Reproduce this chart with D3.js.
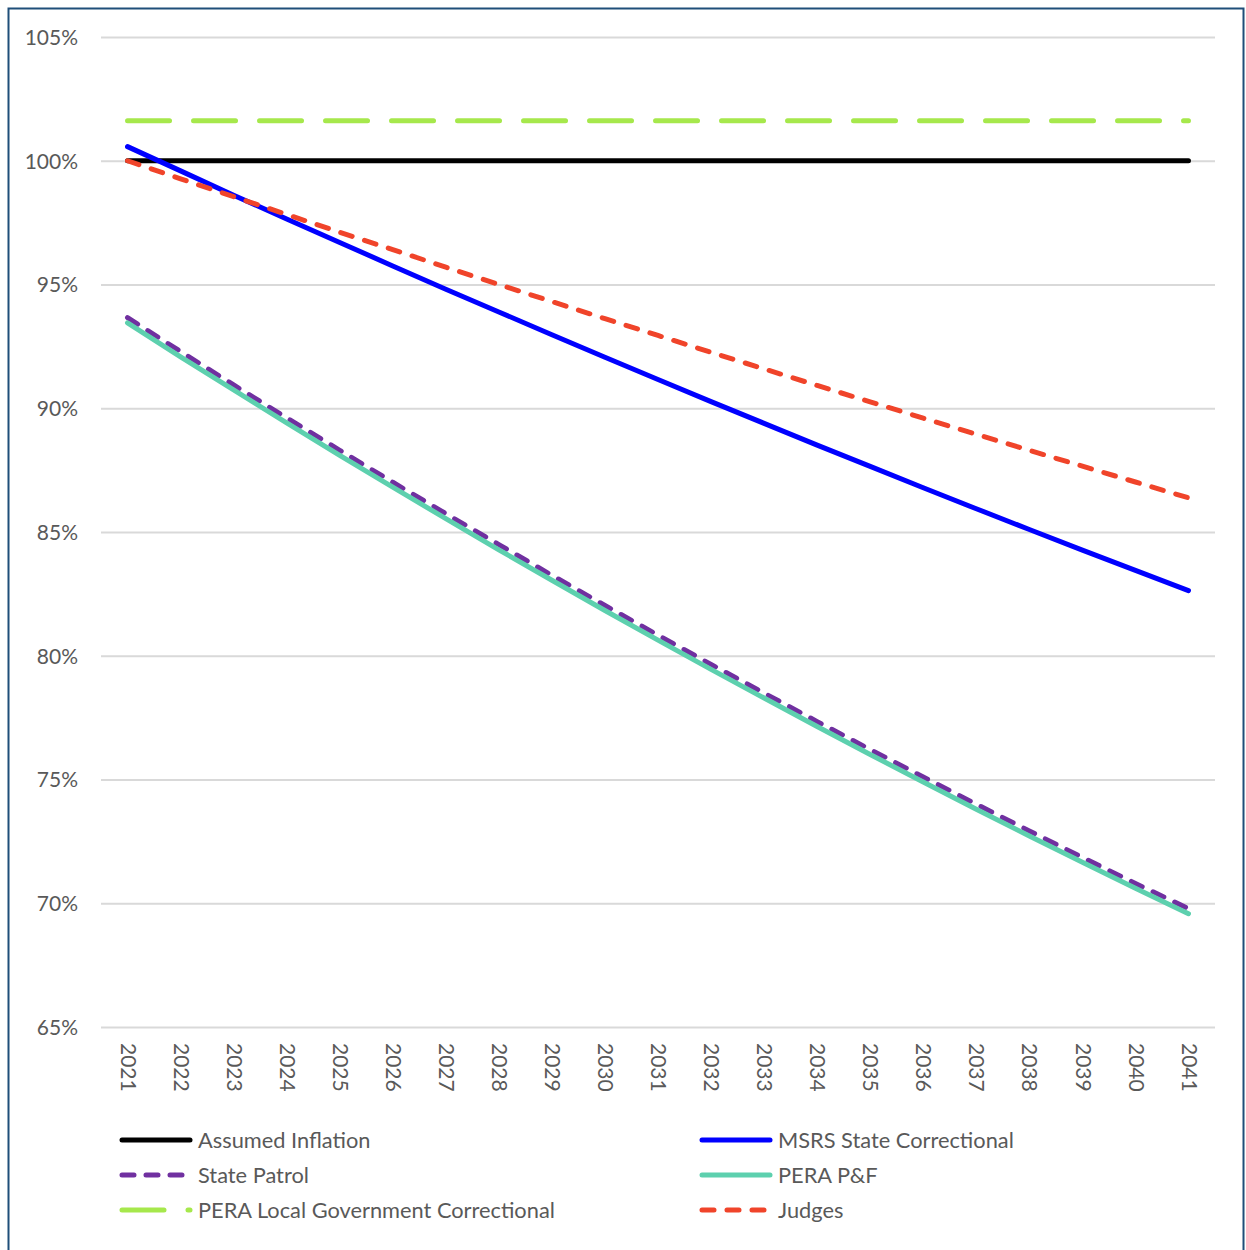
<!DOCTYPE html>
<html>
<head>
<meta charset="utf-8">
<script src="https://cdn.jsdelivr.net/npm/d3@7"></script>
<style>
  html, body { margin: 0; padding: 0; background: #fff; }
  svg { display: block; }
  text { font-family: Lato, "Open Sans", sans-serif; fill: #595959; }
</style>
</head>
<body>
<svg id="chart" width="1246" height="1250"></svg>
<script>
// Purchasing power of benefits relative to assumed inflation, 2021–2041
const years = d3.range(2021, 2042).map(String);

const assumedInflation = [100,100,100,100,100,100,100,100,100,100,100,100,100,100,100,100,100,100,100,100,100];
const msrsStateCorrectional = [100.57,99.59,98.61,97.65,96.70,95.75,94.81,93.89,92.97,92.06,91.16,90.27,89.39,88.51,87.65,86.79,85.94,85.10,84.27,83.45,82.63];
const statePatrol = [93.66,92.29,90.94,89.61,88.30,87.01,85.74,84.49,83.25,82.03,80.83,79.65,78.49,77.34,76.21,75.10,74.00,72.92,71.85,70.80,69.78];
const peraPF = [93.45,92.08,90.74,89.41,88.10,86.81,85.54,84.28,83.05,81.83,80.63,79.45,78.29,77.14,76.01,74.90,73.80,72.72,71.66,70.61,69.58];
const peraLocalCorrectional = [101.62,101.62,101.62,101.62,101.62,101.62,101.62,101.62,101.62,101.62,101.62,101.62,101.62,101.62,101.62,101.62,101.62,101.62,101.62,101.62,101.62];
const judges = [100.00,99.27,98.55,97.83,97.11,96.41,95.70,95.00,94.31,93.62,92.94,92.26,91.59,90.92,90.26,89.60,88.95,88.30,87.66,87.02,86.38];

const yTicks = [65, 70, 75, 80, 85, 90, 95, 100, 105];
const yTickLabels = ["65%", "70%", "75%", "80%", "85%", "90%", "95%", "100%", "105%"];

// Series in drawing order (later ones sit on top)
const series = [
  { name: "Assumed Inflation", values: assumedInflation, color: "#000000", dash: null },
  { name: "MSRS State Correctional", values: msrsStateCorrectional, color: "#0000FF", dash: null },
  { name: "State Patrol", values: statePatrol, color: "#7030A0", dash: "12,12" },
  { name: "PERA P&F", values: peraPF, color: "#5DD0AE", dash: null },
  { name: "PERA Local Government Correctional", values: peraLocalCorrectional, color: "#A6E84C", dash: "42,24" },
  { name: "Judges", values: judges, color: "#F0442A", dash: "12,13" }
];

// Legend layout: two columns, row-major
const legendOrder = [
  "Assumed Inflation", "MSRS State Correctional",
  "State Patrol", "PERA P&F",
  "PERA Local Government Correctional", "Judges"
];

const svg = d3.select("#chart");

// Outer frame
svg.append("rect")
  .attr("x", 8.5).attr("y", 8.5)
  .attr("width", 1235).attr("height", 1270)
  .attr("fill", "none")
  .attr("stroke", "#1F4E79")
  .attr("stroke-width", 2);

const plot = { left: 101, right: 1215, top: 37, bottom: 1027 };

const x = d3.scalePoint()
  .domain(years)
  .range([plot.left, plot.right])
  .padding(0.5);

const y = d3.scaleLinear()
  .domain([65, 105])
  .range([plot.bottom, plot.top]);

// Horizontal gridlines
const yAxis = d3.axisLeft(y)
  .tickValues(yTicks)
  .tickSize(-(plot.right - plot.left))
  .tickFormat((d, i) => yTickLabels[i]);

const gy = svg.append("g")
  .attr("transform", `translate(${plot.left},0)`)
  .call(yAxis);
gy.select(".domain").remove();
gy.selectAll(".tick line")
  .attr("stroke", "#D9D9D9")
  .attr("stroke-width", 2);
gy.selectAll(".tick text")
  .attr("x", -23)
  .attr("dy", "0.35em")
  .style("font-size", "21px")
  .attr("fill", "#595959");

// Category axis with rotated year labels
const xAxis = d3.axisBottom(x).tickSize(0);
const gx = svg.append("g")
  .attr("transform", `translate(0,${plot.bottom})`)
  .call(xAxis);
gx.select(".domain").remove();
gx.selectAll(".tick text")
  .attr("transform", "rotate(90)")
  .attr("x", 16)
  .attr("y", 0)
  .attr("dy", "0.35em")
  .attr("text-anchor", "start")
  .style("font-size", "21px")
  .attr("fill", "#595959");

// Series lines
const line = d3.line()
  .x((d, i) => x(years[i]))
  .y(d => y(d));

svg.append("g")
  .selectAll("path")
  .data(series)
  .join("path")
  .attr("d", d => line(d.values))
  .attr("fill", "none")
  .attr("stroke", d => d.color)
  .attr("stroke-width", 5)
  .attr("stroke-linecap", "round")
  .attr("stroke-linejoin", "round")
  .attr("stroke-dasharray", d => d.dash);

// Legend
const legendCols = [120, 700];
const legendRows = [1140, 1175, 1210];
const legend = svg.append("g");
legendOrder.forEach((name, i) => {
  const s = series.find(d => d.name === name);
  const lx = legendCols[i % 2];
  const ly = legendRows[Math.floor(i / 2)];
  const item = legend.append("g").attr("transform", `translate(${lx},${ly})`);
  item.append("line")
    .attr("x1", 2).attr("x2", 70)
    .attr("y1", 0).attr("y2", 0)
    .attr("stroke", s.color)
    .attr("stroke-width", 5)
    .attr("stroke-linecap", "round")
    .attr("stroke-dasharray", s.dash);
  item.append("text")
    .attr("x", 78)
    .attr("y", 0)
    .attr("dy", "0.35em")
    .style("font-size", "21.8px")
    .text(name);
});
</script>
</body>
</html>
